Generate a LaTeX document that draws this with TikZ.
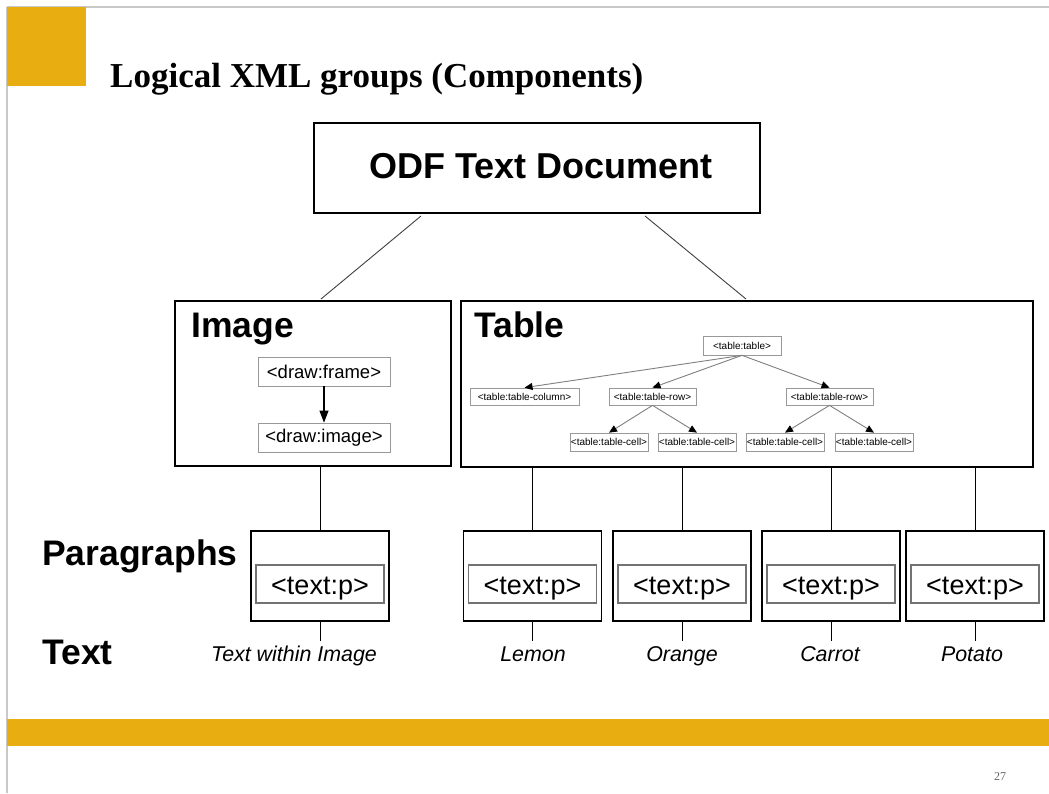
\documentclass[tikz,border=0pt]{standalone}
\usepackage{fontspec}
\setmainfont{Liberation Sans}
\newfontfamily\titlefont{Liberation Serif}
\usetikzlibrary{arrows.meta}
\definecolor{gold}{RGB}{232,173,17}
\definecolor{rule}{RGB}{200,200,200}
\tikzset{
  bigbox/.style={draw=black, line width=1.1pt, inner sep=0pt},
  tagbox/.style={draw=gray!80, line width=0.8pt, fill=white, inner sep=0pt, minimum width=132, minimum height=29, font=\fontsize{18.5}{18.5}\selectfont},
  tinybox/.style={draw=gray!80, line width=0.7pt, fill=white, inner sep=0pt, minimum height=17, font=\fontsize{10}{10}\selectfont},
  parabox/.style={draw=black, line width=1.1pt, inner sep=0pt, minimum width=138, minimum height=90},
  ptag/.style={draw=gray!90!black, line width=1.9pt, inner sep=0pt, minimum width=128, minimum height=38, text height=20pt, text depth=0pt, font=\fontsize{27}{27}\selectfont},
  head/.style={inner sep=0pt, anchor=base west, font=\fontsize{35.5}{35.5}\selectfont\bfseries},
  leaf/.style={inner sep=1pt, anchor=north, text height=19pt, text depth=5pt, font=\fontsize{21.4}{21.4}\selectfont\itshape},
  conn/.style={draw=black, line width=0.9pt},
  slant/.style={draw=black!75, line width=0.9pt},
  tarrow/.style={draw=gray, line width=0.9pt, -{Triangle[length=8pt,width=7pt,color=black]}},
  barrow/.style={draw=black, line width=1.1pt, -{Triangle[length=12pt,width=9pt]}}
}
\begin{document}
\begin{tikzpicture}[x=1pt,y=-1pt]
\useasboundingbox[fill=white] (0,0) rectangle (1049,793);
% frame decoration
\draw[rule, line width=1.1pt] (7,7) -- (1049,7);
\draw[rule, line width=1.1pt] (7,7) -- (7,793);
\fill[gold] (7,7) rectangle (86,86);
\fill[gold] (7,719) rectangle (1049,746);
\node[inner sep=0pt, anchor=base west, font=\titlefont\fontsize{35}{35}\selectfont\bfseries] (title) at (110,87) {Logical XML groups (Components)};
\node[inner sep=0pt, font=\titlefont\fontsize{12}{12}\selectfont, text=black!60] (pnum) at (1000,777) {27};

% top
\node[bigbox, minimum width=446, minimum height=90] (odf) at (537,168) {};
\node[inner sep=0pt, font=\fontsize{36}{36}\selectfont\bfseries] (odft) at (541,166) {ODF Text Document};

% image box
\node[bigbox, minimum width=276, minimum height=165] (imgbox) at (313,383.5) {};
\node[head] (imgt) at (191,337) {Image};
\node[tagbox] (frame) at (324,371.5) {<draw:frame>};
\node[tagbox] (dimg) at (324,437.5) {<draw:image>};
\draw[barrow] (frame.south) -- (dimg.north);

% table box
\node[bigbox, minimum width=572, minimum height=166] (tablebox) at (747,384) {};
\node[head] (tabt) at (474,337) {Table};
\node[tinybox, minimum width=78, minimum height=19] (tt) at (742,345.5) {<table:table>};
\node[tinybox, minimum width=109] (tcol) at (524.5,396.5) {<table:table-column>};
\node[tinybox, minimum width=87] (r1) at (652.5,396.5) {<table:table-row>};
\node[tinybox, minimum width=87] (r2) at (829.5,396.5) {<table:table-row>};
\node[tinybox, minimum width=78, minimum height=18] (c1) at (609,442) {<table:table-cell>};
\node[tinybox, minimum width=78, minimum height=18] (c2) at (697,442) {<table:table-cell>};
\node[tinybox, minimum width=78, minimum height=18] (c3) at (785,442) {<table:table-cell>};
\node[tinybox, minimum width=78, minimum height=18] (c4) at (874,442) {<table:table-cell>};
\draw[tarrow] (tt.south) -- (tcol.north);
\draw[tarrow] (tt.south) -- (r1.north);
\draw[tarrow] (tt.south) -- (r2.north);
\draw[tarrow] (r1.south) -- (c1.north);
\draw[tarrow] (r1.south) -- (c2.north);
\draw[tarrow] (r2.south) -- (c3.north);
\draw[tarrow] (r2.south) -- (c4.north);

% ODF connectors
\coordinate (oa) at (421,216);
\coordinate (ob) at (645,216);
\coordinate (ia) at (321,299);
\coordinate (ib) at (746,299);
\draw[slant] (oa) -- (ia);
\draw[slant] (ob) -- (ib);

% row labels
\node[head] (paras) at (42,565) {Paragraphs};
\node[head] (textl) at (42,664) {Text};

% paragraph boxes
\foreach \n/\x in {1/320,2/532.5,3/682,4/831,5/975}{
  \node[parabox] (p\n) at (\x,576) {};
  \node[ptag] (q\n) at (\x,584) {<text:p>};
}
\draw[conn] (p1.north |- imgbox.south) -- (p1.north);
\foreach \n in {2,3,4,5}{
  \draw[conn] (p\n.north |- tablebox.south) -- (p\n.north);
}

% leaf labels
\node[leaf] (t1) at (294,641) {Text within Image};
\node[leaf] (t2) at (533,641) {Lemon};
\node[leaf] (t3) at (682,641) {Orange};
\node[leaf] (t4) at (830,641) {Carrot};
\node[leaf] (t5) at (972,641) {Potato};
\draw[conn] (p1.south) -- (p1.south |- t1.north);
\draw[conn] (p2.south) -- (p2.south |- t2.north);
\draw[conn] (p3.south) -- (p3.south |- t3.north);
\draw[conn] (p4.south) -- (p4.south |- t4.north);
\draw[conn] (p5.south) -- (p5.south |- t5.north);
\end{tikzpicture}
\end{document}
